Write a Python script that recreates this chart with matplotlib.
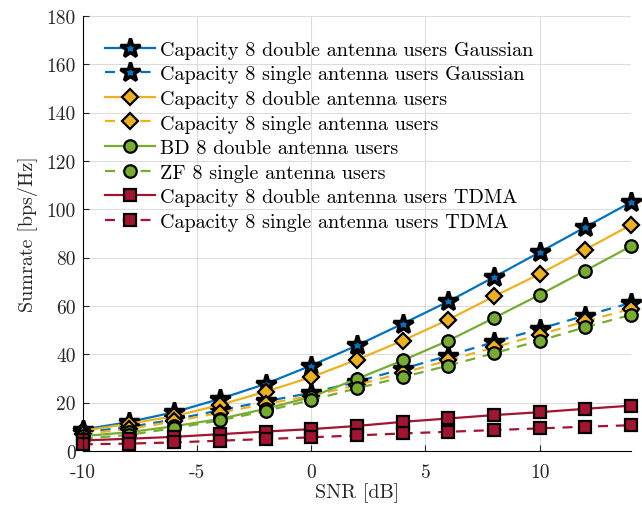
import matplotlib
matplotlib.use('Agg')
import matplotlib.pyplot as plt
import numpy as np

plt.rcParams['font.family'] = ['cmr10', 'DejaVu Serif']
plt.rcParams['axes.unicode_minus'] = False
plt.rcParams['mathtext.fontset'] = 'cm'

snr = [-10, -8, -6, -4, -2, 0, 2, 4, 6, 8, 10, 12, 14]

cap_double_gauss = [8.8, 11.9, 16.0, 21.5, 27.7, 35.3, 43.6, 52.6, 61.8, 71.9, 82.2, 92.6, 102.9]
cap_single_gauss = [7.7, 9.8, 13.0, 16.8, 20.5, 24.0, 28.6, 33.9, 39.4, 45.0, 50.5, 56.0, 61.2]
cap_double = [8.3, 11.2, 14.3, 19.0, 24.5, 30.5, 37.7, 45.6, 54.3, 63.9, 73.2, 83.3, 93.5]
cap_single = [7.0, 9.0, 12.2, 15.8, 19.4, 22.8, 27.2, 32.3, 37.4, 42.8, 48.1, 53.6, 58.8]
bd_double = [6.1, 7.7, 10.2, 13.2, 17.4, 22.3, 29.8, 37.4, 45.6, 55.0, 64.6, 74.6, 84.7]
zf_single = [5.0, 6.6, 9.4, 12.6, 16.5, 21.0, 25.9, 30.5, 35.3, 40.4, 45.6, 51.2, 56.3]
tdma_double = [4.3, 5.0, 5.8, 6.9, 8.0, 9.0, 10.3, 12.0, 13.4, 14.8, 16.0, 17.4, 18.7]
tdma_single = [2.7, 3.0, 3.5, 4.2, 4.9, 5.6, 6.4, 7.2, 7.9, 8.6, 9.3, 10.0, 10.6]

labels = ['Capacity 8 double antenna users Gaussian',
          'Capacity 8 single antenna users Gaussian',
          'Capacity 8 double antenna users',
          'Capacity 8 single antenna users',
          'BD 8 double antenna users',
          'ZF 8 single antenna users',
          'Capacity 8 double antenna users TDMA',
          'Capacity 8 single antenna users TDMA']

blue = '#0072BD'
orange = '#EDB120'
green = '#77AC30'
red = '#A2142F'

# data, colour, line style, marker, marker size, edge width
series = [
    (cap_double_gauss, blue, '-', '*', 15, 2.5),
    (cap_single_gauss, blue, '--', '*', 15, 2.5),
    (cap_double, orange, '-', 'D', 8, 1.6),
    (cap_single, orange, '--', 'D', 8, 1.6),
    (bd_double, green, '-', 'o', 9, 1.6),
    (zf_single, green, '--', 'o', 9, 1.6),
    (tdma_double, red, '-', 's', 8.5, 1.6),
    (tdma_single, red, '--', 's', 8.5, 1.6),
]

fig = plt.figure(figsize=(6.42, 5.10), dpi=100)
ax = fig.add_axes([0.129, 0.114, 0.854, 0.853])

for (y, c, ls, m, ms, mew), lab in zip(series, labels):
    ax.plot(snr, y, color=c, linestyle=ls, linewidth=1.6, marker=m, markersize=ms,
            markerfacecolor=c, markeredgecolor='k', markeredgewidth=mew,
            dashes=(4.5, 3.5) if ls == '--' else (None, None), label=lab,
            clip_on=False)

ax.set_xlim(-10, 14)
ax.set_ylim(0, 180)
ax.set_xticks([-10, -5, 0, 5, 10])
ax.set_xticklabels(['-10', '-5', '0', '5', '10'])
ax.set_yticks(np.arange(0, 181, 20))
ax.grid(True, color='#dcdcdc', linewidth=0.8)
ax.set_axisbelow(True)
ax.spines['top'].set_visible(False)
ax.spines['right'].set_visible(False)
ax.tick_params(direction='in', length=4, labelsize=14, colors='#262626')
ax.tick_params(axis='x', pad=9)
ax.tick_params(axis='y', pad=5)
ax.set_xlabel('SNR [dB]', fontsize=14.5, color='#262626', labelpad=1)
ax.set_ylabel('Sumrate [bps/Hz]', fontsize=14.5, color='#262626', labelpad=6)

leg = ax.legend(loc='upper left', frameon=False, fontsize=14.5, handlelength=2.5,
                labelspacing=0.32, handletextpad=0.2, borderaxespad=0.3,
                bbox_to_anchor=(0.015, 0.975))

fig.savefig('out.png', dpi=100)
